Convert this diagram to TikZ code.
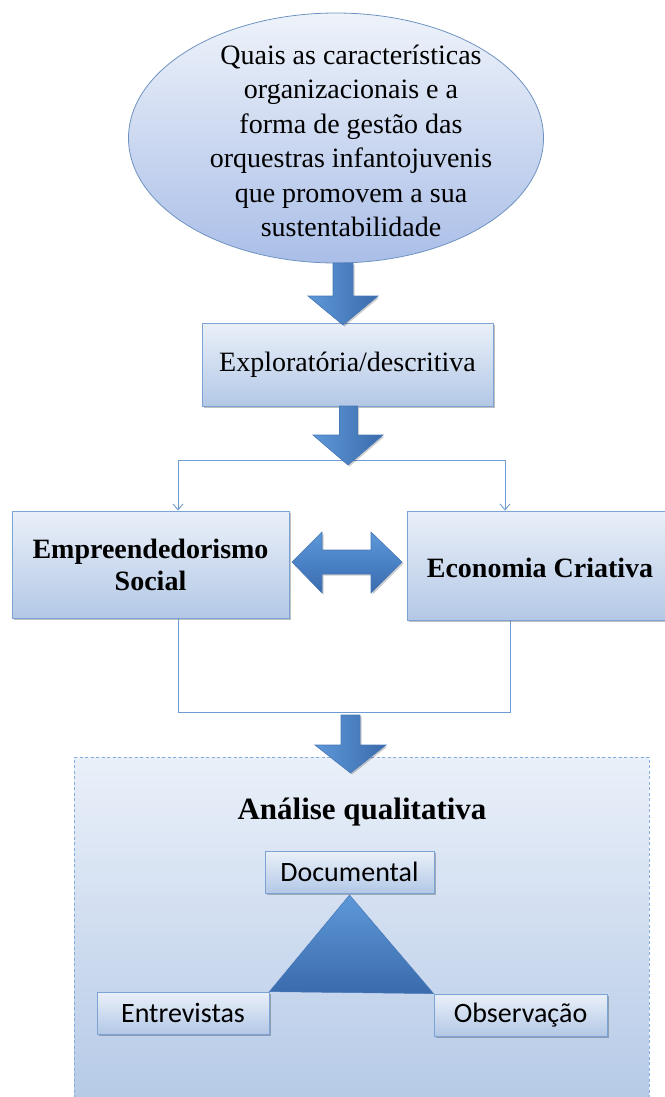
\documentclass[tikz,border=0pt]{standalone}
\usepackage{fontspec}
\setmainfont{Liberation Serif}
\newfontfamily\carlfont{Carlito}
\usetikzlibrary{shapes.geometric,shadows,calc,arrows.meta}
\definecolor{bordc}{HTML}{7BA3D6}
\definecolor{topc}{HTML}{EAF0F9}
\definecolor{botc}{HTML}{B3C8E6}
\definecolor{arrL}{HTML}{5E98D8}
\definecolor{arrM}{HTML}{4A82C6}
\definecolor{arrR}{HTML}{3A6BAC}
\definecolor{arrE}{HTML}{4677B8}
\definecolor{linec}{HTML}{6F9BD3}
\definecolor{dashc}{HTML}{86AEDD}
\tikzset{
  box/.style={draw=bordc, line width=0.8pt, top color=topc, bottom color=botc,
    inner sep=0pt, align=center,
    drop shadow={shadow xshift=2pt, shadow yshift=-2pt, opacity=0.25, fill=black}},
  oval/.style={ellipse, draw=bordc!90!black, line width=0.8pt, top color=topc!80!white, bottom color=botc!95!blue,
    minimum width=415pt, minimum height=250pt, inner sep=0pt},
  serifq/.style={font=\fontsize{28}{34.5}\selectfont, align=center},
  serifbox/.style={font=\fontsize{28}{34}\selectfont, align=center},
  boldtxt/.style={font=\fontsize{28}{32}\selectfont\bfseries, align=center},
  sanstxt/.style={font=\carlfont\fontsize{28}{30}\selectfont},
  blockarrow/.style={left color=arrL, middle color=arrM, right color=arrR, draw=arrE, line width=0.6pt,
    drop shadow={shadow xshift=1.5pt, shadow yshift=-1.5pt, opacity=0.2, fill=black}},
  thin/.style={draw=linec, line width=0.9pt},
  barb/.style={-{Straight Barb[length=6pt,width=10pt]}},
}
\begin{document}
\begin{tikzpicture}[x=1pt,y=-1pt]
\useasboundingbox (0,0) rectangle (664,1097);

% question ellipse
\node[oval] (q) at (336,138) {};
\node[serifq] (qt) at (351,141) {Quais as características\\organizacionais e a\\forma de gestão das\\orquestras infantojuvenis\\que promovem a sua\\sustentabilidade};

% exploratory box
\node[box, serifbox, minimum width=291pt, minimum height=83pt] (exp) at (347.5,364.5) {Exploratória/descritiva};

% arrow 1
\path[blockarrow] (333,263) -- (353,263) -- (353,296) -- (378,296) -- (343,325) -- (308,296) -- (333,296) -- cycle;

% split connectors
\coordinate (jl) at (178,460);
\coordinate (jr) at (505,460);
\draw[thin] (jl) -- (jr);

% boxes
\node[box, boldtxt, minimum width=277pt, minimum height=107pt] (emp) at (150.5,564.5) {Empreendedorismo\\Social};
\node[box, minimum width=265pt, minimum height=109pt] (eco) at (539.5,565.5) {};
\node[boldtxt] (ecot) at (540,568) {Economia Criativa};

\draw[thin, barb] (jl) -- (jl |- emp.north);
\draw[thin, barb] (jr) -- (jr |- eco.north);

% arrow 2
\path[blockarrow] (339.5,406) -- (357.5,406) -- (357.5,435) -- (383,435) -- (348,465) -- (313,435) -- (339.5,435) -- cycle;

% double arrow
\path[blockarrow, top color=arrL, bottom color=arrR, middle color=arrM] (292,562) -- (322,532) -- (322,550) -- (371,550) -- (371,532) -- (402,562) -- (371,593) -- (371,574) -- (322,574) -- (322,593) -- cycle;

% merge connectors
\coordinate (bl) at (178,712);
\coordinate (br) at (510,712);
\draw[thin] (emp.south -| bl) -- (bl) -- (br) -- (eco.south -| br);

% analysis region
\node[draw=dashc, line width=0.9pt, dash pattern=on 3pt off 2.5pt, top color=topc, bottom color=botc,
  minimum width=575pt, minimum height=360pt, inner sep=0pt] (ana) at (361.5,937) {};
\node[font=\fontsize{31}{34}\selectfont\bfseries] (anat) at (362,812) {Análise qualitativa};

% arrow 3
\path[blockarrow] (341,715) -- (360,715) -- (360,745) -- (386,745) -- (350.5,773) -- (315,745) -- (341,745) -- cycle;

% triangulation
\node[box, sanstxt, minimum width=172pt, minimum height=42pt] (ent) at (183,1013) {Entrevistas};
\node[box, sanstxt, minimum width=173pt, minimum height=42pt] (obs) at (520.5,1015) {Observação};
\path[top color=arrL, bottom color=arrR, draw=arrE, line width=0.5pt]
  (349.5,895) -- (ent.north east) -- (obs.north west) -- cycle;
\node[box, sanstxt, minimum width=169pt, minimum height=42pt] (doc) at (349.5,872) {Documental};
\end{tikzpicture}
\end{document}
